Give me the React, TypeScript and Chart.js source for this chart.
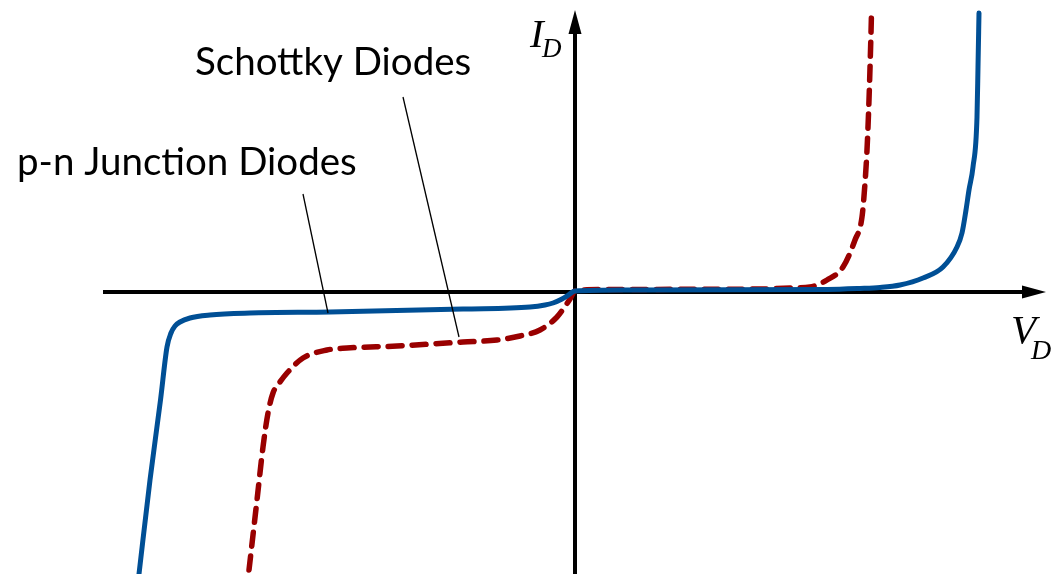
import React, { useEffect, useRef } from "react";
import { Chart, registerables } from "chart.js";

Chart.register(...registerables);

// I–V characteristics (arbitrary units: V_D on x, I_D on y)
const PN_VOLTAGE = [
  -4.36, -4.25, -4.145, -4.08, -4.04, -4.0, -3.95, -3.85, -3.65, -3.25, -2.45, -1.12, -0.45, -0.3, -0.22,
  -0.13, -0.08, 0, 0.5, 2.52, 2.85, 3.05, 3.25, 3.48, 3.68, 3.82, 3.87, 3.91, 3.94, 3.98, 4.02, 4.03, 4.04,
];
const PN_CURRENT = [
  -2.82, -1.88, -1.08, -0.55, -0.41, -0.34, -0.3, -0.26, -0.23, -0.21, -0.2, -0.17, -0.15, -0.13, -0.11,
  -0.07, -0.04, 0.01, 0.02, 0.025, 0.035, 0.045, 0.07, 0.14, 0.25, 0.45, 0.59, 0.82, 1.02, 1.25, 1.75, 2.25, 2.79,
];

const SCHOTTKY_VOLTAGE = [
  -3.26, -3.18, -3.12, -3.07, -3.02, -2.95, -2.88, -2.72, -2.48, -2.28, -1.78, -1.12, -0.78, -0.55, -0.35,
  -0.18, -0.09, -0.05, 0, 0.25, 1.85, 2.18, 2.35, 2.52, 2.68, 2.8, 2.87, 2.9, 2.92, 2.94, 2.96, 2.965,
];
const SCHOTTKY_CURRENT = [
  -2.78, -2.08, -1.55, -1.21, -1.01, -0.9, -0.81, -0.66, -0.58, -0.56, -0.54, -0.5, -0.48, -0.44, -0.38,
  -0.25, -0.13, -0.07, 0.01, 0.025, 0.03, 0.04, 0.05, 0.12, 0.25, 0.52, 0.75, 1.09, 1.42, 1.92, 2.59, 2.79,
];

// Axis extents and annotation anchors (same units)
const X_RANGE = [-5.75, 4.79];
const Y_RANGE = [-2.82, 2.92];
const X_AXIS_SPAN = [-4.72, 4.71];
const Y_AXIS_SPAN = [-2.82, 2.82];

const LABEL_TEXTS = ["Schottky Diodes", "p-n Junction Diodes"];
const LABEL_ANCHORS = [
  [-3.8, 2.17],
  [-5.58, 1.17],
];
const LEADER_FROM = [
  [-1.72, 1.95],
  [-2.72, 0.98],
];
const LEADER_TO = [
  [-1.16, -0.45],
  [-2.47, -0.21],
];

const BLUE = "#004f95";
const RED = "#990000";

const toPoints = (xs: number[], ys: number[]) => xs.map((x, i) => ({ x, y: ys[i] }));

const diagramPlugin = {
  id: "diagramAxes",
  beforeDatasetsDraw(chart: any) {
    const { ctx, scales } = chart;
    const xs = scales.x;
    const ys = scales.y;
    const y0 = ys.getPixelForValue(0);
    const x0 = xs.getPixelForValue(0);
    const xl = xs.getPixelForValue(X_AXIS_SPAN[0]);
    const xr = xs.getPixelForValue(X_AXIS_SPAN[1]);
    const yb = ys.getPixelForValue(Y_AXIS_SPAN[0]);
    const yt = ys.getPixelForValue(Y_AXIS_SPAN[1]);
    ctx.save();
    ctx.strokeStyle = "#000";
    ctx.fillStyle = "#000";
    ctx.lineWidth = 4;
    // horizontal axis
    ctx.beginPath();
    ctx.moveTo(xl, y0);
    ctx.lineTo(xr - 18, y0);
    ctx.stroke();
    ctx.beginPath();
    ctx.moveTo(xr, y0);
    ctx.lineTo(xr - 24, y0 - 6.5);
    ctx.lineTo(xr - 24, y0 + 6.5);
    ctx.closePath();
    ctx.fill();
    // vertical axis
    ctx.beginPath();
    ctx.moveTo(x0, yb);
    ctx.lineTo(x0, yt + 18);
    ctx.stroke();
    ctx.beginPath();
    ctx.moveTo(x0, yt);
    ctx.lineTo(x0 - 6.5, yt + 24);
    ctx.lineTo(x0 + 6.5, yt + 24);
    ctx.closePath();
    ctx.fill();
    ctx.restore();
  },
  afterDatasetsDraw(chart: any) {
    const { ctx, scales } = chart;
    const xs = scales.x;
    const ys = scales.y;
    const px = (v: number) => xs.getPixelForValue(v);
    const py = (v: number) => ys.getPixelForValue(v);
    ctx.save();
    // leader lines
    ctx.strokeStyle = "#000";
    ctx.lineWidth = 1.3;
    LEADER_FROM.forEach((from, i) => {
      const to = LEADER_TO[i];
      ctx.beginPath();
      ctx.moveTo(px(from[0]), py(from[1]));
      ctx.lineTo(px(to[0]), py(to[1]));
      ctx.stroke();
    });
    // curve labels
    ctx.fillStyle = "#000";
    ctx.textBaseline = "alphabetic";
    ctx.textAlign = "left";
    ctx.font = "38.5px Lato";
    LABEL_TEXTS.forEach((t, i) => {
      ctx.fillText(t, px(LABEL_ANCHORS[i][0]), py(LABEL_ANCHORS[i][1]));
    });
    // axis titles
    const x0 = px(0);
    const y0 = py(0);
    ctx.font = "italic 41px 'Liberation Serif'";
    ctx.fillText("I", x0 - 45, 47);
    ctx.font = "italic 27px 'Liberation Serif'";
    ctx.fillText("D", x0 - 33, 57);
    ctx.font = "italic 41px 'Liberation Serif'";
    ctx.fillText("V", xs.getPixelForValue(4.36), y0 + 51);
    ctx.font = "italic 28px 'Liberation Serif'";
    ctx.fillText("D", xs.getPixelForValue(4.56), y0 + 67);
    ctx.restore();
  },
};

export default function App() {
  const canvasRef = useRef<HTMLCanvasElement | null>(null);

  useEffect(() => {
    const canvas = canvasRef.current;
    if (!canvas) return;
    const chart = new Chart(canvas, {
      type: "scatter",
      data: {
        datasets: [
          {
            label: "p-n Junction Diodes",
            data: toPoints(PN_VOLTAGE, PN_CURRENT),
            showLine: true,
            borderColor: BLUE,
            borderWidth: 5,
            pointRadius: 0,
            cubicInterpolationMode: "monotone",
            borderCapStyle: "round",
            borderJoinStyle: "round",
          },
          {
            label: "Schottky Diodes",
            data: toPoints(SCHOTTKY_VOLTAGE, SCHOTTKY_CURRENT),
            showLine: true,
            borderColor: RED,
            borderWidth: 5.5,
            borderDash: [14, 10],
            pointRadius: 0,
            cubicInterpolationMode: "monotone",
            borderCapStyle: "round",
            borderJoinStyle: "round",
          },
        ],
      },
      options: {
        responsive: false,
        animation: false,
        devicePixelRatio: 1,
        layout: { padding: 0 },
        plugins: {
          legend: { display: false },
          tooltip: { enabled: false },
        },
        scales: {
          x: { type: "linear", min: X_RANGE[0], max: X_RANGE[1], display: false },
          y: { type: "linear", min: Y_RANGE[0], max: Y_RANGE[1], display: false },
        },
      },
      plugins: [diagramPlugin],
    });
    return () => chart.destroy();
  }, []);

  return (
    <div style={{ position: "fixed", left: 0, top: 0, width: 1054, height: 574, background: "#fff" }}>
      <canvas ref={canvasRef} width={1054} height={574} style={{ display: "block" }} />
    </div>
  );
}
